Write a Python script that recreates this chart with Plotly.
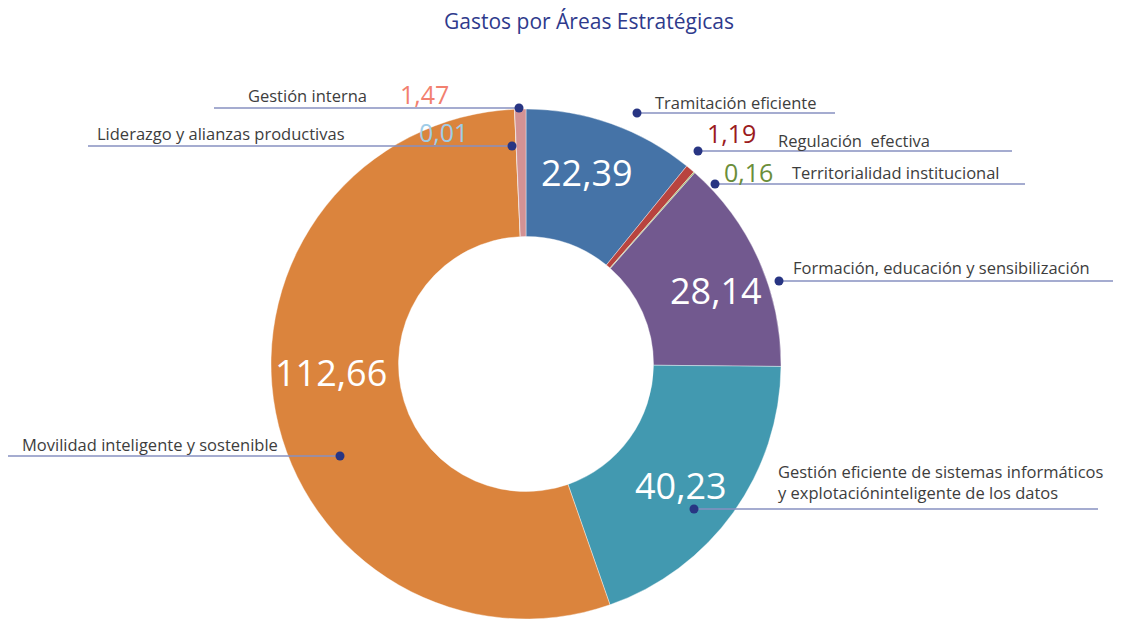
import plotly.graph_objects as go

OFF = 8                  # page body margin
W, H = 1121 - OFF, 619 - OFF

categories = [
    "Tramitación eficiente",
    "Regulación  efectiva",
    "Territorialidad institucional",
    "Formación, educación y sensibilización",
    "Gestión eficiente de sistemas informáticos<br>y explotacióninteligente de los datos",
    "Movilidad inteligente y sostenible",
    "Liderazgo y alianzas productivas",
    "Gestión interna",
]
values = [22.39, 1.19, 0.16, 28.14, 40.23, 112.66, 0.01, 1.47]
slice_colors = ["#4573a7", "#b8443f", "#9bbb59", "#72598f", "#4299b0", "#db843d", "#93cddd", "#d39294"]
value_colors = ["white", "#9b1b1e", "#6b8e3a", "white", "white", "white", "#9fcde8", "#f2806f"]


def fmt(v):
    return f"{v:.2f}".replace(".", ",")


FONT = "Open Sans"
LINE_C = "#8790c0"
DOT_C = "#283583"
TEXT_C = "#3d3d3d"

# Label layout in screen pixels: dot, line end, text anchor, value text position
label_layout = [
    dict(dot=(637, 113), lx=835, tx=653, ty=103, ta="left", vx=587, vy=172, vs=36, va="center"),
    dict(dot=(698, 151), lx=1012, tx=776, ty=140, ta="left", vx=705, vy=133, vs=25, va="left"),
    dict(dot=(715, 184), lx=1025, tx=790, ty=172, ta="left", vx=722, vy=172, vs=25, va="left"),
    dict(dot=(779, 281), lx=1121, tx=791, ty=268, ta="left", vx=716, vy=290, vs=36, va="center"),
    dict(dot=(694, 509), lx=1098, tx=776, ty=482, ta="left", vx=681, vy=485, vs=36, va="center"),
    dict(dot=(340, 456), lx=8, tx=20, ty=444, ta="left", vx=331, vy=372, vs=36, va="center"),
    dict(dot=(512, 146), lx=88, tx=347, ty=133, ta="right", vx=417, vy=132, vs=25, va="left"),
    dict(dot=(519, 108), lx=214, tx=369, ty=96, ta="right", vx=398, vy=94, vs=25, va="left"),
]


def px(x):
    return (x - OFF) / W


def py(y):
    return 1 - (y - OFF) / H


fig = go.Figure()
fig.add_trace(go.Pie(
    labels=categories,
    values=values,
    hole=0.5,
    sort=False,
    direction="clockwise",
    rotation=0,
    marker=dict(colors=slice_colors, line=dict(color="white", width=0.4)),
    textinfo="none",
    domain=dict(x=[px(271), px(781)], y=[0, py(109)]),
    showlegend=False,
    hoverinfo="label+value",
))

shapes = []
annotations = []
for cat, v, vc, lay in zip(categories, values, value_colors, label_layout):
    dx, dy = lay["dot"]
    shapes.append(dict(type="line", xref="paper", yref="paper",
                       x0=px(dx), y0=py(dy), x1=px(lay["lx"]), y1=py(dy),
                       line=dict(color=LINE_C, width=1.3)))
    r = 4.5
    shapes.append(dict(type="circle", xref="paper", yref="paper",
                       x0=px(dx - r), x1=px(dx + r), y0=py(dy + r), y1=py(dy - r),
                       fillcolor=DOT_C, line=dict(width=0)))
    annotations.append(dict(text=cat, xref="paper", yref="paper",
                            x=px(lay["tx"]), y=py(lay["ty"]), xanchor=lay["ta"], yanchor="middle",
                            align="left", showarrow=False,
                            font=dict(family=FONT, size=16.5, color=TEXT_C)))
    annotations.append(dict(text=fmt(v), xref="paper", yref="paper",
                            x=px(lay["vx"]), y=py(lay["vy"]), xanchor=lay["va"], yanchor="middle",
                            showarrow=False,
                            font=dict(family=FONT, size=lay["vs"], color=vc)))

fig.update_layout(
    width=W, height=H,
    margin=dict(l=0, r=0, t=0, b=0),
    paper_bgcolor="white", plot_bgcolor="white",
    title=dict(text="Gastos por Áreas Estratégicas", x=px(589), xanchor="center",
               y=py(22), yanchor="middle", yref="container", xref="container",
               font=dict(family=FONT, size=21, color="#2e3a8c")),
    shapes=shapes,
    annotations=annotations,
)

fig.write_html("out.html")
